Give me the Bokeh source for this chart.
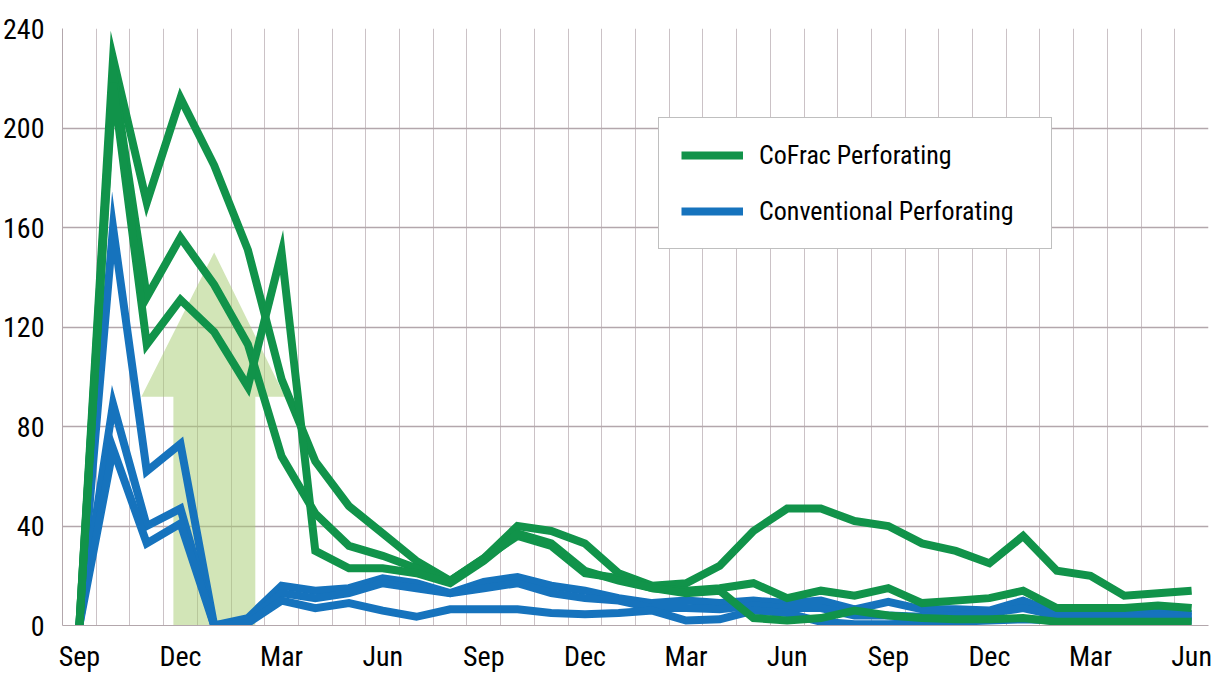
from bokeh.plotting import figure
from bokeh.models import Range1d, FixedTicker, Legend, LegendItem
from bokeh.embed import file_html
from bokeh.resources import INLINE

# ---- data -------------------------------------------------------------
n_months = 34
month_index = list(range(n_months))
tick_positions = [0, 3, 6, 9, 12, 15, 18, 21, 24, 27, 30, 33]
tick_labels = ["Sep", "Dec", "Mar", "Jun", "Sep", "Dec", "Mar", "Jun",
               "Sep", "Dec", "Mar", "Jun"]
y_ticks = [0, 40, 80, 120, 160, 200, 240]

cofrac_well_1 = [0, 228, 170, 212, 185, 151, 99, 66, 48, 37, 26, 18, 27, 40,
                 38, 33, 21, 16, 17, 24, 38, 47, 47, 42, 40, 33, 30, 25, 36,
                 22, 20, 12, 13, 14]
cofrac_well_2 = [0, 222, 132, 156, 137, 113, 68, 45, 32, 28, 23, 18, 27, 36,
                 32, 21, 19, 15, 14, 15, 17, 11, 14, 12, 15, 9, 10, 11, 14,
                 7, 7, 7, 8, 7]
cofrac_well_3 = [0, 218, 113, 131, 118, 96, 150, 30, 23, 23, 21, 17, 26, 37,
                 33, 22, 18, 15, 13, 14, 3, 2, 3, 6, 4, 3, 2.5, 2.5, 3, 1.5,
                 1.5, 1.5, 1.5, 1.5]

conv_well_1 = [0, 160, 62, 73, 0, 3, 16, 14, 15, 19, 17, 13, 17.5, 19.5, 16,
               14, 11, 9, 10, 9, 10, 9, 10, 6.5, 9.5, 6.5, 6.5, 6, 10, 5, 5,
               5, 5.5, 4.5]
conv_well_2 = [0, 89, 40, 47, 0, 2, 13, 11, 13, 17, 15, 13, 15, 17, 13, 11,
               10, 7, 7, 6.5, 8, 7, 7, 4, 4, 3.5, 4, 5, 7, 4, 4, 3.5, 4, 3.5]
conv_well_3 = [0, 71, 33, 41, 0, 1, 10, 7, 9, 6, 3.5, 6.5, 6.5, 6.5, 5, 4.5,
               5, 6, 2, 2.5, 6, 5, 1.5, 0.5, 0.5, 1, 1.5, 2, 2.5, 2, 2, 2,
               2, 2]

# decorative arrow (data units)
arrow_x = [2.79, 2.79, 1.84, 4.0, 6.1, 5.22, 5.22]
arrow_y = [0, 92, 92, 150, 92, 92, 0]

# ---- styles -----------------------------------------------------------
GREEN = "#11934a"
BLUE = "#1673bd"
GRID = "#cbc2c6"
TICK_FONT = "Roboto Condensed, Liberation Sans"
LEG_FONT = "Roboto Condensed, Liberation Sans"

p = figure(width=1213, height=675, output_backend="svg", toolbar_location=None,
           x_range=Range1d(-0.5, n_months - 0.5), y_range=Range1d(0, 240),
           min_border_left=61, min_border_right=5, min_border_top=28,
           min_border_bottom=49)
p.outline_line_color = None
p.background_fill_color = "white"
p.border_fill_color = "white"

# grid
p.xgrid.ticker = FixedTicker(ticks=[i - 0.5 for i in range(n_months + 1)])
p.xgrid.grid_line_color = GRID
p.xgrid.grid_line_width = 1
p.ygrid.ticker = FixedTicker(ticks=y_ticks)
p.ygrid.grid_line_color = "#b3a7ac"
p.ygrid.grid_line_width = 1.3

# axes
p.xaxis.ticker = FixedTicker(ticks=tick_positions)
p.xaxis.major_label_overrides = {t: l for t, l in zip(tick_positions, tick_labels)}
p.yaxis.ticker = FixedTicker(ticks=y_ticks)
for ax in (p.xaxis, p.yaxis):
    ax.major_tick_line_color = None
    ax.minor_tick_line_color = None
    ax.axis_line_color = "#b3a7ac"
    ax.major_label_text_font = TICK_FONT
    ax.major_label_text_color = "black"
p.xaxis.major_label_text_font_size = "28px"
p.yaxis.major_label_text_font_size = "28px"
p.xaxis.major_label_standoff = 8
p.yaxis.major_label_standoff = 12

# arrow
p.patch(arrow_x, arrow_y, fill_color="#a6cc70", fill_alpha=0.5, line_color=None)

lw = 8
blue_r = None
for ys in (conv_well_1, conv_well_2, conv_well_3):
    r = p.line(month_index, ys, line_color=BLUE, line_width=lw, line_join="miter")
    blue_r = blue_r or r
green_r = None
for ys in (cofrac_well_1, cofrac_well_2, cofrac_well_3):
    r = p.line(month_index, ys, line_color=GREEN, line_width=lw, line_join="miter")
    green_r = green_r or r

legend = Legend(items=[LegendItem(label="CoFrac Perforating", renderers=[green_r]),
                       LegendItem(label="Conventional Perforating", renderers=[blue_r])],
                location=(596, 376), orientation="vertical")
legend.label_text_font = LEG_FONT
legend.label_text_font_size = "26px"
legend.label_text_color = "black"
legend.glyph_width = 62
legend.glyph_height = 30
legend.label_height = 30
legend.label_width = 270
legend.label_standoff = 16
legend.spacing = 26
legend.padding = 22
legend.margin = 0
legend.border_line_color = "#808080"
legend.border_line_width = 1.5
legend.background_fill_color = "white"
legend.background_fill_alpha = 1
p.add_layout(legend, "center")

open("out.html", "w").write(file_html(p, INLINE))
